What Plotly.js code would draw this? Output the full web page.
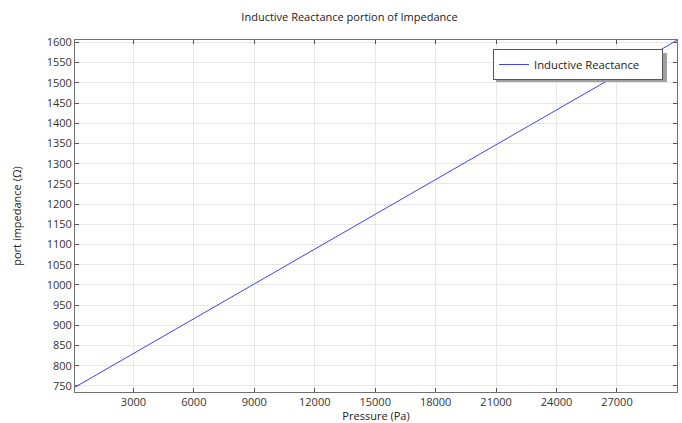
<!DOCTYPE html>
<html>
<head>
<meta charset="utf-8">
<script src="https://cdn.plot.ly/plotly-3.0.1.min.js"></script>
<style>html,body{margin:0;padding:0;background:#fff;}#chart{width:682px;height:423px;}</style>
</head>
<body>
<div id="chart"></div>
<script>
const pressure = [100, 3000, 6000, 9000, 12000, 15000, 18000, 21000, 24000, 27000, 30000];
const reactance = [747, 830, 916, 1002, 1089, 1175, 1261, 1347, 1433, 1519, 1606];
const seriesName = 'Inductive Reactance';
const xTicks = [3000, 6000, 9000, 12000, 15000, 18000, 21000, 24000, 27000];
const yTicks = [750, 800, 850, 900, 950, 1000, 1050, 1100, 1150, 1200, 1250, 1300, 1350, 1400, 1450, 1500, 1550, 1600];

const font = 'Open Sans, Noto Sans, sans-serif';
const trace = {
  x: pressure, y: reactance, type: 'scatter', mode: 'lines',
  name: seriesName + '\u00a0\u00a0\u00a0\u00a0\u00a0\u00a0',
  line: {color: '#4040ff', width: 1}
};
const axisCommon = {
  showline: true, linecolor: '#707070', linewidth: 1, mirror: 'ticks',
  ticks: 'inside', ticklen: 4, tickcolor: '#555', tickwidth: 1,
  showgrid: true, gridcolor: '#e8e8e8', gridwidth: 1, zeroline: false,
  tickfont: {family: font, size: 11, color: '#333'}
};
const layout = {
  width: 682, height: 423,
  margin: {l: 75, r: 5, t: 40, b: 31},
  paper_bgcolor: '#fff', plot_bgcolor: '#fff',
  title: {text: 'Inductive Reactance portion of Impedance', x: 0.5125, xanchor: 'center', y: 0.96, yanchor: 'middle',
          font: {family: font, size: 11, color: '#222'}},
  xaxis: Object.assign({}, axisCommon, {
    range: [100, 29980], tickvals: xTicks, ticktext: xTicks.map(String),
    title: {text: 'Pressure (Pa)', font: {family: font, size: 11, color: '#222'}, standoff: 2}
  }),
  yaxis: Object.assign({}, axisCommon, {
    range: [735, 1606], tickvals: yTicks, ticktext: yTicks.map(String),
    title: {text: 'port impedance (Ω)', font: {family: font, size: 11, color: '#222'}, standoff: 22}
  }),
  showlegend: true,
  legend: {x: 0.6944, y: 0.9744, xanchor: 'left', yanchor: 'top', bgcolor: '#fff', itemwidth: 30,
           bordercolor: '#555', borderwidth: 1, font: {family: font, size: 11.3, color: '#222'}},
  shapes: [{type: 'rect', xref: 'paper', yref: 'paper', x0: 0.6993, x1: 0.9834, y0: 0.881, y1: 0.963,
            fillcolor: '#a0a0a0', line: {width: 0}, layer: 'above'}]
};
Plotly.newPlot('chart', [trace], layout, {displayModeBar: false, staticPlot: true});
</script>
</body>
</html>
